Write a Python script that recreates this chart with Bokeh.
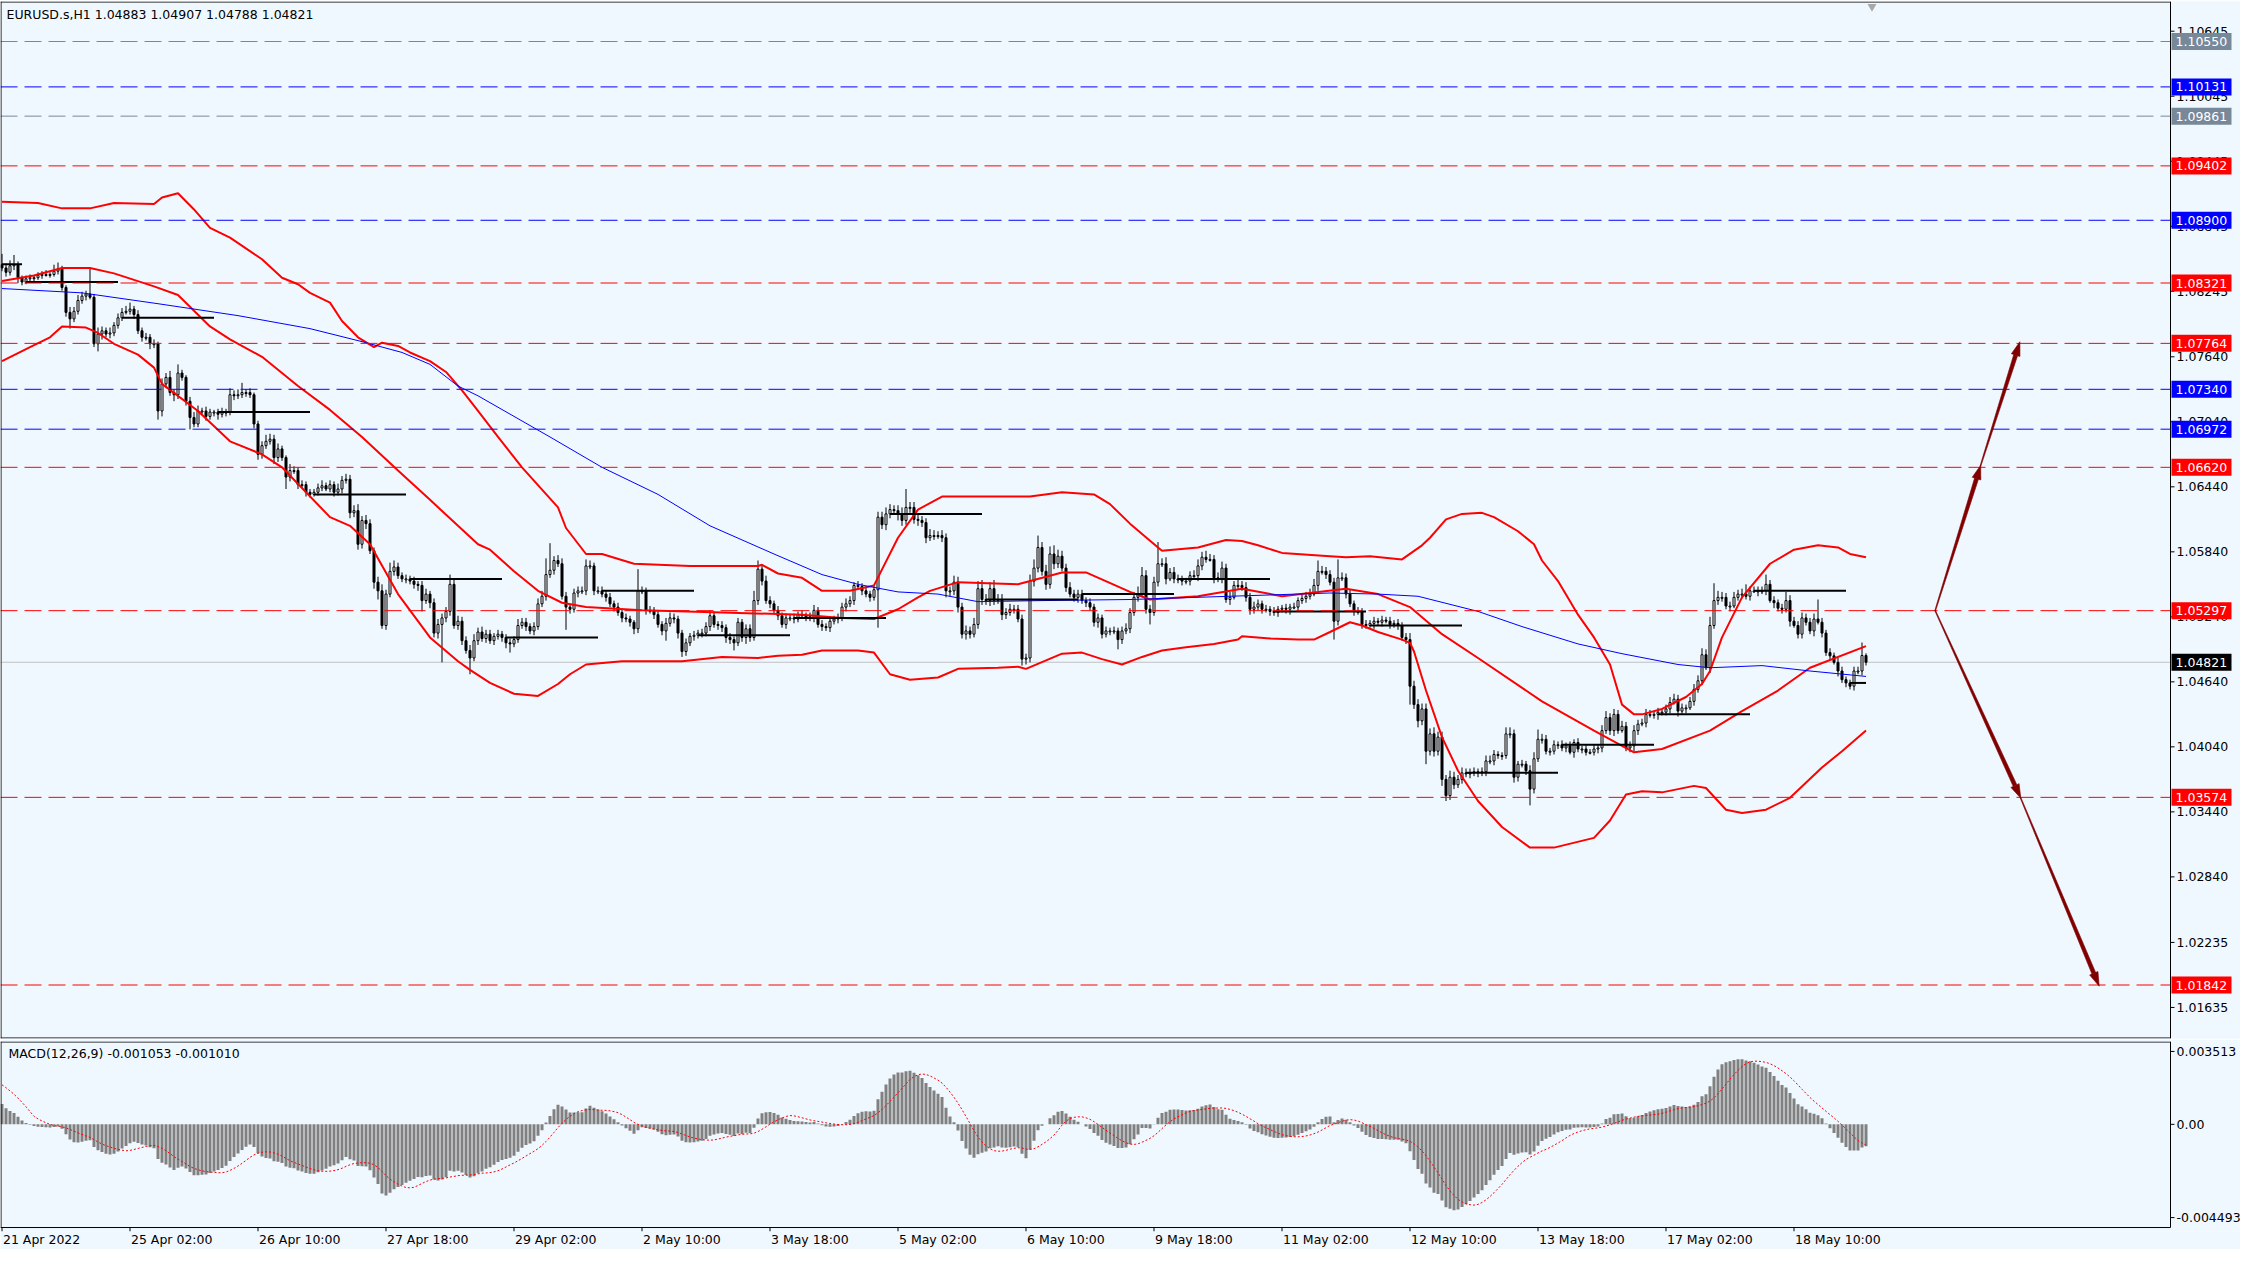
import json
import numpy as np
from bokeh.plotting import figure
from bokeh.models import Range1d, FixedTicker, LinearAxis, CustomJSTickFormatter
from bokeh.core.properties import value
from bokeh.layouts import column
from bokeh.embed import file_html
from bokeh.resources import INLINE

# ------------------------------------------------------------------ data
SYMBOL_TITLE = "EURUSD.s,H1  1.04883 1.04907 1.04788 1.04821"
MACD_TITLE = "MACD(12,26,9) -0.001053 -0.001010"

# hourly closes in pips above 1.0000 (bar 0 = 21 Apr 2022 18:00)
close_pips = [
    846, 842, 848, 849, 837, 833, 836, 837, 837, 839,
    840, 840, 840, 843, 845, 828, 805, 799, 806, 816,
    820, 822, 819, 776, 785, 788, 785, 786, 793, 800,
    805, 806, 808, 803, 788, 782, 782, 776, 776, 714,
    739, 745, 731, 729, 749, 745, 723, 708, 702, 714,
    714, 709, 713, 713, 711, 713, 713, 729, 728, 729,
    731, 731, 729, 702, 674, 682, 686, 688, 671, 679,
    671, 653, 659, 659, 646, 646, 639, 637, 639, 643,
    645, 642, 646, 639, 642, 650, 651, 620, 622, 591,
    613, 610, 585, 556, 548, 516, 545, 566, 570, 562,
    559, 559, 557, 554, 553, 539, 545, 537, 509, 517,
    523, 529, 554, 516, 520, 502, 493, 486, 502, 510,
    504, 508, 502, 506, 508, 505, 500, 499, 503, 516,
    519, 515, 511, 515, 536, 543, 563, 567, 576, 573,
    543, 533, 531, 546, 548, 548, 571, 571, 548, 548,
    545, 542, 536, 533, 528, 523, 522, 519, 513, 548,
    548, 530, 530, 526, 517, 511, 518, 523, 522, 509,
    492, 500, 506, 507, 509, 509, 515, 525, 517, 516,
    514, 505, 503, 500, 519, 505, 513, 505, 539, 568,
    557, 539, 536, 530, 525, 517, 523, 523, 522, 526,
    525, 524, 523, 530, 517, 515, 514, 520, 522, 523,
    533, 536, 539, 553, 552, 548, 545, 542, 549, 616,
    609, 619, 623, 622, 619, 613, 625, 625, 614, 613,
    611, 597, 599, 599, 599, 597, 548, 548, 556, 533,
    508, 511, 508, 517, 550, 540, 539, 550, 539, 540,
    526, 528, 531, 531, 522, 485, 486, 557, 569, 588,
    566, 554, 582, 573, 580, 569, 551, 545, 542, 545,
    539, 537, 533, 519, 523, 508, 511, 511, 511, 503,
    511, 513, 528, 542, 545, 562, 531, 528, 556, 573,
    573, 559, 565, 559, 558, 557, 557, 562, 562, 571,
    579, 577, 577, 560, 559, 569, 540, 542, 553, 553,
    551, 542, 531, 533, 536, 531, 531, 529, 528, 531,
    532, 531, 533, 533, 539, 541, 543, 545, 553, 566,
    566, 563, 556, 520, 560, 560, 545, 536, 529, 529,
    517, 516, 518, 520, 519, 521, 520, 517, 518, 516,
    505, 503, 460, 443, 428, 439, 400, 416, 400, 413,
    374, 359, 376, 369, 374, 380, 379, 380, 381, 380,
    381, 391, 391, 397, 396, 396, 416, 416, 376, 388,
    388, 382, 365, 393, 411, 411, 400, 400, 406, 406,
    403, 405, 399, 408, 402, 402, 399, 399, 402, 403,
    419, 431, 419, 434, 419, 423, 403, 405, 419, 425,
    426, 434, 434, 434, 436, 436, 439, 445, 448, 437,
    440, 440, 446, 457, 465, 489, 477, 516, 539, 542,
    542, 534, 534, 542, 545, 545, 543, 548, 548, 548,
    548, 554, 539, 537, 532, 531, 539, 520, 516, 508,
    523, 519, 511, 522, 519, 509, 491, 488, 482, 474,
    466, 463, 460, 474, 474, 488.3, 482.1,
]
open0_pips = 849
# wick lengths in pips (base 36): above body top / below body bottom
up_wick = "".join([
    "a459323323", "3426632545", "43o3643534", "4563434342", "5463832455",
    "3432343645", "9342346545", "3264343334", "5343545456", "4543564864",
    "3434345345", "4494544564", "5443433436", "443455fp45", "5434446534",
    "434343432k", "4343435543", "3434344543", "4343434498", "4543434343",
    "4345343434", "4543434345", "565456h554", "4465454465", "4546785685",
    "545444468b", "5678654544", "4343434343", "454578545k", "5645443456",
    "5654564545", "4545434343", "343434456a", "5444h54434", "3434343434",
    "3465555565", "5465454443", "4554336643", "4356954343", "4343434343",
    "5645454454", "4543434554", "43455658g6", "5445459444", "4944348544",
    "5445i43434", "43344c2"])
dn_wick = "".join([
    "3434532332", "3232334933", "3423753433", "3234343548", "5436434b33",
    "3434534343", "3434543364", "3b43434323", "3234343545", "4536834343",
    "34345a3545", "z443443f34", "3434345833", "3434334343", "3l43434343",
    "3434343454", "3434349345", "5434343434", "4547346434", "4343434343",
    "3434343434", "343434343z", "4543654545", "4534346545", "4543454543",
    "5434365454", "4545434345", "3434543439", "4343434b34", "3524343425",
    "4325343524", "3454343434", "3452434325", "343h434343", "4325342434",
    "34h464c454", "6544343434", "3434343454", "34f4343434", "3425343234",
    "4345323454", "2434533425", "3524342534", "4352343425", "3425343524",
    "4335243425", "3434343"])

# daily-open indicator: first bar of each trading day, and 21 Apr open level
day_start_bars = [0, 6, 30, 54, 78, 102, 126, 150, 174, 198, 222, 246, 270,
                  294, 318, 342, 366, 390, 414, 438, 462]
day0_open_pips = 849.5

# Bollinger bands (bar, pips)
bb_up_bar = [0, 9, 15, 22, 28, 38, 40, 44, 48, 52, 57, 65, 70, 74, 77, 82, 85, 89, 93, 95,
             99, 102, 107, 111, 115, 119, 124, 130, 139, 141, 146, 150, 158, 172, 189, 190, 194, 200, 205, 212,
             218, 224, 229, 235, 243, 257, 265, 273, 277, 282, 289, 290, 299, 306, 310, 314, 320, 332, 336, 342,
             350, 355, 357, 361, 365, 370, 373, 379, 383, 385, 389, 394, 398, 402, 405, 408, 410, 415, 421, 425,
             427, 430, 435, 442, 448, 454, 459, 462, 466]
bb_up_pips = [907, 906, 901, 901, 906, 905, 911, 915, 900, 883, 874, 854, 837, 831, 823, 814, 797, 782, 773, 777,
              774, 768, 760, 750, 733, 714, 690, 662, 625, 606, 582, 582, 573, 571, 571, 572, 564, 560, 548, 548,
              553, 597, 623, 635, 635, 635, 639, 637, 628, 610, 588, 585, 588, 595, 594, 590, 583, 580, 579, 580,
              577, 590, 597, 614, 619, 620, 616, 603, 591, 576, 557, 526, 505, 480, 443, 434, 434, 439, 450, 462,
              474, 505, 542, 573, 586, 590, 588, 582, 579]
bb_mid_bar = [0, 8, 15, 22, 28, 38, 44, 52, 57, 65, 74, 82, 90, 99, 107, 114, 119, 122, 128, 134,
              140, 146, 160, 180, 200, 210, 218, 224, 229, 232, 239, 254, 265, 271, 282, 287, 299, 310, 320, 336,
              344, 352, 360, 369, 385, 398, 408, 415, 427, 435, 444, 452, 466]
bb_mid_pips = [834, 839, 846, 846, 841, 829, 821, 792, 780, 764, 737, 715, 690, 659, 632, 608, 591, 586, 566, 548,
               537, 533, 530, 528, 526, 523, 522, 531, 542, 548, 556, 554, 565, 565, 547, 540, 543, 550, 543, 550,
               545, 533, 508, 486, 446, 419, 399, 402, 419, 437, 456, 477, 497]
bb_lo_bar = [0, 7, 12, 15, 21, 24, 28, 34, 38, 40, 49, 57, 65, 70, 82, 87, 92, 99, 107, 114,
             117, 122, 128, 134, 139, 142, 146, 155, 170, 180, 189, 194, 200, 205, 214, 218, 222, 227, 234, 239,
             249, 254, 256, 265, 270, 275, 280, 285, 290, 296, 303, 309, 310, 317, 324, 328, 332, 337, 340, 344,
             350, 352, 353, 356, 360, 364, 369, 375, 382, 388, 398, 402, 406, 410, 415, 423, 426, 431, 435, 441,
             447, 455, 460, 466]
bb_lo_pips = [760, 773, 782, 792, 791, 786, 776, 766, 754, 739, 714, 686, 674, 662, 616, 608, 591, 545, 505, 483,
              475, 463, 453, 451, 462, 471, 480, 483, 483, 487, 486, 488, 489, 493, 493, 491, 471, 466, 468, 476,
              477, 478, 476, 490, 491, 485, 480, 487, 493, 496, 499, 503, 506, 504, 503, 503, 510, 519, 516, 510,
              503, 500, 492, 456, 413, 382, 354, 330, 311, 311, 320, 336, 360, 363, 362, 368, 366, 346, 343, 346,
              357, 385, 400, 419]
# blue moving average
ma_bar = [0, 20, 39, 59, 77, 90, 100, 107, 114, 119, 137, 150, 164, 177, 193, 205, 214, 224, 234, 244,
          260, 282, 307, 332, 344, 354, 369, 380, 394, 405, 419, 427, 440, 452, 466]
ma_pips = [827, 823, 813, 802, 790, 778, 768, 757, 737, 728, 690, 662, 637, 608, 582, 563, 554, 547, 545, 538,
           539, 540, 543, 546, 545, 543, 529, 515, 499, 490, 480, 477, 479, 474, 469]

# horizontal levels
hl_price = [1.10550, 1.10131, 1.09861, 1.09402, 1.08900, 1.08321, 1.07764,
            1.07340, 1.06972, 1.06620, 1.05297, 1.03574, 1.01842]
hl_color = ["#778899", "#0000FF", "#778899", "#FF0000", "#0000FF", "#FF0000", "#FF0000",
            "#0000FF", "#0000FF", "#FF0000", "#FF0000", "#FF0000", "#FF0000"]
last_price = 1.04821

# scenario arrows (bar, price)
arrow_from_bar = [483.3, 494.6, 483.3, 504.6]
arrow_from_price = [1.05297, 1.0663, 1.05297, 1.03574]
arrow_to_bar = [494.6, 504.4, 504.6, 524.2]
arrow_to_price = [1.0663, 1.0777, 1.03574, 1.0184]

price_ticks = [1.10645, 1.10045, 1.09445, 1.08845, 1.08245, 1.07640, 1.07040, 1.06440,
               1.05840, 1.05240, 1.04640, 1.04040, 1.03440, 1.02840, 1.02235, 1.01635]
macd_ticks = [0.003513, 0.0, -0.004493]
macd_tick_labels = ["0.003513", "0.00", "-0.004493"]
date_tick_bars = [0, 32, 64, 96, 128, 160, 192, 224, 256, 288, 320, 352, 384, 416, 448]
date_labels = ["21 Apr 2022", "25 Apr 02:00", "26 Apr 10:00", "27 Apr 18:00", "29 Apr 02:00",
               "2 May 10:00", "3 May 18:00", "5 May 02:00", "6 May 10:00", "9 May 18:00",
               "11 May 02:00", "12 May 10:00", "13 May 18:00", "17 May 02:00", "18 May 10:00"]

# MACD state before the first bar (read from the indicator window)
ema12_seed = 1.0862
ema26_seed = 1.0850
signal_seed = 0.00202

# ------------------------------------------------------------------ layout
FONT = "DejaVu Sans"
FS = "12.5px"
BG = "#F0F8FF"
W = 2240
H_MAIN = 1039
H_MACD = 210
PLOT_W = 2170                      # width of the price area; the scale lives to its right
PX_BAR = 4.0
X0 = -0.375
X1 = X0 + PLOT_W / PX_BAR          # price-scale line
XR = X0 + W / PX_BAR               # right edge of canvas
PX_PRICE = 10835.0
FRAME_H = H_MAIN - 2
PTOP = 1.10550 + 40 / PX_PRICE
PBOT = PTOP - FRAME_H / PX_PRICE
M_TOP, M_BOT = 0.003992, -0.004972
M_PX = 187 / (M_TOP - M_BOT)
TICK_PX = 4

n = len(close_pips)
assert len(up_wick) == n and len(dn_wick) == n
idx = np.arange(n)
c = 1 + np.array(close_pips, dtype=float) / 1e4
o = np.concatenate([[1 + open0_pips / 1e4], c[:-1]])
upw = np.array([int(ch, 36) for ch in up_wick]) / 1e4
dnw = np.array([int(ch, 36) for ch in dn_wick]) / 1e4
top = np.maximum(o, c)
bot = np.minimum(o, c)
hi = top + upw
lo = bot - dnw
bull = c >= o
body_bot = np.where(top - bot < 1.0 / PX_PRICE, top - 1.0 / PX_PRICE, bot)


def P(pips):
    return list(1 + np.array(pips, dtype=float) / 1e4)


def txt(fig, xs, ys, texts, color="black", align="left"):
    fig.text(x=xs, y=ys, text=texts, text_font=value(FONT), text_font_size=value(FS),
             text_color=color, text_align=align, text_baseline="middle")


xr = Range1d(X0, XR)

p = figure(width=W, height=H_MAIN, x_range=xr, y_range=Range1d(PBOT, PTOP),
           output_backend="svg", toolbar_location=None,
           x_axis_location=None, y_axis_location=None,
           min_border_left=0, min_border_right=0, min_border_top=1, min_border_bottom=1,
           background_fill_color=BG, border_fill_color=BG, outline_line_color=None)
p.grid.visible = False

# bid line
p.segment(x0=[X0], y0=[last_price], x1=[X1], y1=[last_price], line_color="#C0C0C0", line_width=1)

# candles
p.segment(x0=idx, y0=lo, x1=idx, y1=hi, line_color="black", line_width=1)
p.vbar(x=idx, width=0.5, top=top, bottom=body_bot,
       fill_color=["white" if b else "black" for b in bull], line_color="black", line_width=1)

# indicators
p.line(bb_up_bar, P(bb_up_pips), line_color="#FF0000", line_width=2)
p.line(bb_mid_bar, P(bb_mid_pips), line_color="#FF0000", line_width=2)
p.line(bb_lo_bar, P(bb_lo_pips), line_color="#FF0000", line_width=2)
p.line(ma_bar, P(ma_pips), line_color="#0000FF", line_width=1)

# daily open segments
seg_end = [s - 1 for s in day_start_bars[1:]] + [n - 1]
levels = [1 + day0_open_pips / 1e4] + [o[s] for s in day_start_bars[1:]]
p.segment(x0=day_start_bars, y0=levels, x1=seg_end, y1=levels, line_color="black", line_width=2)

# horizontal dashed levels
p.segment(x0=[X0] * len(hl_price), y0=hl_price, x1=[X1] * len(hl_price), y1=hl_price,
          line_color=hl_color, line_width=1, line_dash="17 7")


# scenario arrows (tapered)
def arrow_polys(xa, pa, xb, pb):
    XA, YA = xa * PX_BAR, -pa * PX_PRICE
    XB, YB = xb * PX_BAR, -pb * PX_PRICE
    dx, dy = XB - XA, YB - YA
    L = np.hypot(dx, dy)
    ux, uy = dx / L, dy / L
    nx, ny = -uy, ux
    hl, hw, w0, w1 = 13.0, 4.5, 0.4, 2.0
    bx, by = XB - ux * hl, YB - uy * hl
    shaft = [(XA + nx * w0, YA + ny * w0), (bx + nx * w1, by + ny * w1),
             (bx - nx * w1, by - ny * w1), (XA - nx * w0, YA - ny * w0)]
    head = [(XB + ux * 1.0, YB + uy * 1.0), (bx + nx * hw, by + ny * hw), (bx - nx * hw, by - ny * hw)]
    out = []
    for poly in (shaft, head):
        out.append(([q[0] / PX_BAR for q in poly], [-q[1] / PX_PRICE for q in poly]))
    return out


axs, ays = [], []
for xa, pa, xb, pb in zip(arrow_from_bar, arrow_from_price, arrow_to_bar, arrow_to_price):
    for xs, ys in arrow_polys(xa, pa, xb, pb):
        axs.append(xs)
        ays.append(ys)
p.patches(axs, ays, fill_color="#800000", line_color="#800000", line_width=0.6)

# chart-shift marker
p.scatter([467.5], [PTOP - 5 / PX_PRICE], marker="inverted_triangle", size=9,
          fill_color="#A8A8A8", line_color=None)

# panel border and price scale
hpx, hpp = 0.5 / PX_BAR, 0.5 / PX_PRICE
p.segment(x0=[X0 + hpx, X0, X0, X1], y0=[PBOT, PTOP - hpp, PBOT + hpp, PBOT],
          x1=[X0 + hpx, X1, X1, X1], y1=[PTOP, PTOP - hpp, PBOT + hpp, PTOP],
          line_color="black", line_width=1)
p.segment(x0=[X1] * len(price_ticks), y0=price_ticks, x1=[X1 + 4 / PX_BAR] * len(price_ticks),
          y1=price_ticks, line_color="black", line_width=1)
txt(p, [X1 + 6 / PX_BAR] * len(price_ticks), price_ticks, [f"{t:.5f}" for t in price_ticks])

# price boxes on the scale
box_p = hl_price + [last_price]
box_c = hl_color + ["#000000"]
p.rect(x=[X1 + 31 / PX_BAR] * len(box_p), y=box_p, width=60 / PX_BAR, height=17 / PX_PRICE,
       fill_color=box_c, line_color=None)
txt(p, [X1 + 5 / PX_BAR] * len(box_p), box_p, [f"{v:.5f}" for v in box_p], color="white")

# title
txt(p, [X0 + 6 / PX_BAR], [PTOP - 13 / PX_PRICE], [SYMBOL_TITLE])

# ------------------------------------------------------------------ MACD
a12, a26 = 2 / 13, 2 / 27
e12, e26 = ema12_seed, ema26_seed
main = []
for v in c:
    e12 += a12 * (v - e12)
    e26 += a26 * (v - e26)
    main.append(e12 - e26)
main = np.array(main)
signal = np.convolve(np.concatenate([np.full(8, signal_seed), main]), np.ones(9) / 9, mode="valid")

M_LOW = M_BOT - TICK_PX / M_PX     # room below the panel for the time-scale tick marks
m = figure(width=W, height=H_MACD, x_range=xr, y_range=Range1d(M_LOW, M_TOP),
           output_backend="svg", toolbar_location=None,
           x_axis_location=None, y_axis_location=None,
           min_border_left=0, min_border_right=0, min_border_top=2, min_border_bottom=0,
           background_fill_color=BG, border_fill_color=BG, outline_line_color=None)
m.grid.visible = False

m.vbar(x=idx, width=0.75, top=main, bottom=0, fill_color="#808080", line_color=None)
m.line(idx, signal, line_color="#FF0000", line_width=1, line_dash="2 2")

mh = 0.5 / M_PX
m.segment(x0=[X0 + hpx, X0, X0, X1], y0=[M_BOT, M_TOP - mh, M_BOT, M_BOT],
          x1=[X0 + hpx, X1, X1, X1], y1=[M_TOP, M_TOP - mh, M_BOT, M_TOP],
          line_color="black", line_width=1)
m.segment(x0=[X1] * len(macd_ticks), y0=macd_ticks, x1=[X1 + 4 / PX_BAR] * len(macd_ticks),
          y1=macd_ticks, line_color="black", line_width=1)
# time-scale tick marks under the panel
m.segment(x0=date_tick_bars, y0=[M_BOT] * len(date_tick_bars), x1=date_tick_bars,
          y1=[M_LOW] * len(date_tick_bars), line_color="black", line_width=1)
txt(m, [X1 + 6 / PX_BAR] * len(macd_ticks), macd_ticks, macd_tick_labels)
txt(m, [X0 + 8 / PX_BAR], [M_TOP - 12 / M_PX], [MACD_TITLE])

EM = {"0": .636, "1": .636, "2": .636, "3": .636, "4": .636, "5": .636, "6": .636, "7": .636,
      "8": .636, "9": .636, " ": .318, ":": .337, "A": .684, "p": .635, "r": .411, "M": .863,
      "a": .613, "y": .592}
centers = [t + (sum(EM.get(ch, .6) for ch in s) * 12.5 / 2 + 1) / PX_BAR
           for t, s in zip(date_tick_bars, date_labels)]
code = ("const c = %s; const l = %s; for (let i = 0; i < c.length; i++) {"
        " if (Math.abs(c[i] - tick) < 1e-6) return l[i]; } return '';"
        % (json.dumps(centers), json.dumps(date_labels)))
axB = LinearAxis(ticker=FixedTicker(ticks=centers, minor_ticks=[]),
                 formatter=CustomJSTickFormatter(code=code),
                 major_tick_out=0, major_tick_in=0, minor_tick_out=0, minor_tick_in=0,
                 major_label_standoff=0, axis_line_color=None, major_tick_line_color=None,
                 major_label_text_font=FONT, major_label_text_font_size=FS,
                 major_label_text_color="black")
m.add_layout(axB, "below")

layout = column(p, m, spacing=0)
open("out.html", "w").write(file_html(layout, INLINE))
